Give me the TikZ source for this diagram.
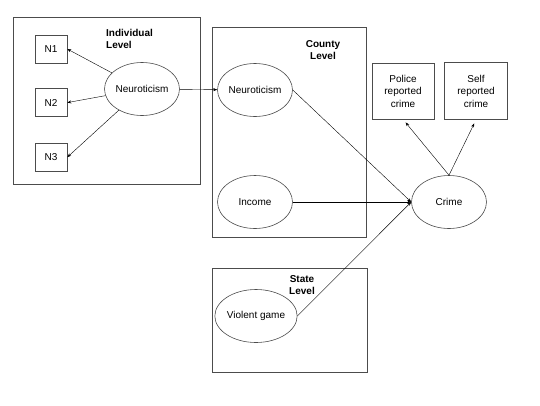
\documentclass[tikz,border=0pt]{standalone}
\usepackage{fontspec}
\setmainfont{Liberation Sans}
\usetikzlibrary{shapes.geometric,arrows.meta,positioning}

\begin{document}
\begin{tikzpicture}[x=1pt, y=-1pt, >={Stealth[length=4pt,width=3pt]},
    font=\fontsize{10}{12.5}\selectfont,
    level/.style = {draw=black!70, line width=0.6pt},
    var/.style = {draw=black!70, line width=0.6pt, ellipse, minimum width=75pt, minimum height=53pt, inner sep=0pt},
    item/.style = {draw=black!70, line width=0.6pt, rectangle, minimum width=32pt, minimum height=28pt, inner sep=0pt, align=center},
    tag/.style = {font=\fontsize{10}{12.5}\selectfont\bfseries, inner sep=0pt}]
    \useasboundingbox (0,0) rectangle (540,405);
    \draw[level] (13,17) rectangle (200,184);
    \draw[level] (212,27) rectangle (366,237);
    \draw[level] (212,268) rectangle (367,372);
    \node[tag, align=left, anchor=north west] (indlab) at (106,29) {Individual\\Level};
    \node[tag, align=center, anchor=north] (countylab) at (323,40) {County\\Level};
    \node[tag, align=center, anchor=north] (statelab) at (302,275) {State\\Level};
    \node[item] (n1) at (51,49) {N1};
    \node[item, below=25pt of n1] (n2) {N2};
    \node[item, below=26pt of n2] (n3) {N3};
    \node[var] (indneuro) at (142,89) {Neuroticism};
    \node[var] (cneuro) at (255,90) {Neuroticism};
    \node[var] (income) at (255,202) {Income};
    \node[var] (violent) at (256,316) {Violent game};
    \node[var] (crime) at (449,202) {Crime};
    \node[item, minimum width=62pt, minimum height=56pt] (police) at (403,91) {Police\\reported\\crime};
    \node[item, minimum width=63pt, minimum height=57pt] (self) at (476,91) {Self\\reported\\crime};
    \draw[->] (indneuro) -- (n1.east);
    \draw[->] (indneuro) -- (n2.east);
    \draw[->] (indneuro) -- (n3.east);
    \draw[->] (indneuro) -- (cneuro);
    \draw[->] (cneuro.east) -- (crime.west);
    \draw[->] (income) -- (crime.west);
    \draw[->] (violent.east) -- (crime.west);
    \draw[->, shorten >=4pt] (crime.north) -- (police.south);
    \draw[->, shorten >=4pt] (crime.north) -- (self.south);
\end{tikzpicture}
\end{document}
